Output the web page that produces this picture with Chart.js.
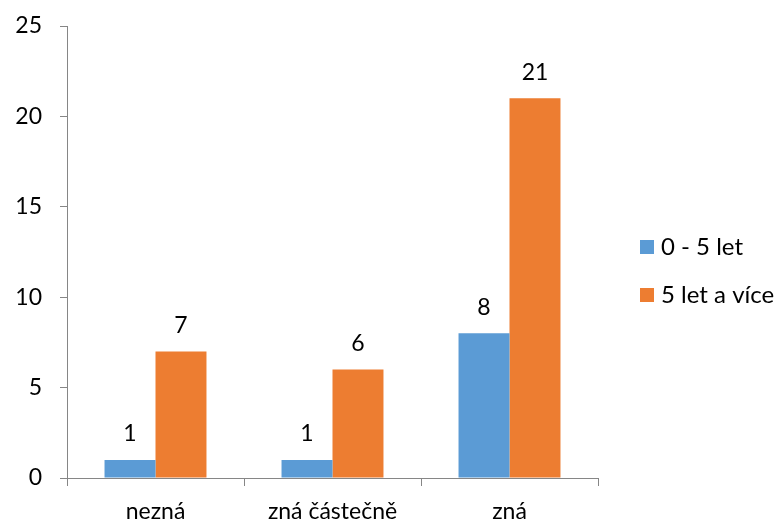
<!DOCTYPE html>
<html lang="cs">
<head>
<meta charset="UTF-8">
<title>Graf</title>
<script src="https://cdn.jsdelivr.net/npm/chart.js"></script>
<style>
  html, body { margin: 0; padding: 0; background: #fff; }
  #wrap { width: 777px; height: 523px; }
</style>
</head>
<body>
<div id="wrap"><canvas id="chart" width="777" height="523"></canvas></div>
<script>
const categories = ['nezná', 'zná částečně', 'zná'];
const seriesNames = ['0 - 5 let', '5 let a více'];
const shortTerm = [1, 1, 8];
const longTerm = [7, 6, 21];
const yTicks = [0, 5, 10, 15, 20, 25];

const FONT = 'Lato, "Open Sans", sans-serif';
const AXIS = '#868686';

// value labels above each bar
const valueLabels = {
  id: 'valueLabels',
  afterDatasetsDraw(chart) {
    const ctx = chart.ctx;
    ctx.save();
    ctx.font = '23px ' + FONT;
    ctx.fillStyle = '#000';
    ctx.textAlign = 'center';
    ctx.textBaseline = 'middle';
    chart.data.datasets.forEach((ds, i) => {
      chart.getDatasetMeta(i).data.forEach((bar, j) => {
        ctx.fillText(String(ds.data[j]), bar.x, bar.y - 26);
      });
    });
    ctx.restore();
  }
};

// legend on the right, like the Excel one
const sideLegend = {
  id: 'sideLegend',
  afterDraw(chart) {
    const ctx = chart.ctx;
    ctx.save();
    ctx.font = '24px ' + FONT;
    ctx.textAlign = 'left';
    ctx.textBaseline = 'middle';
    chart.data.datasets.forEach((ds, i) => {
      const y = 247 + i * 48;
      ctx.fillStyle = ds.backgroundColor;
      ctx.fillRect(640, y - 7, 14, 14);
      ctx.fillStyle = '#000';
      ctx.fillText(ds.label, 661, y);
    });
    ctx.restore();
  }
};

new Chart(document.getElementById('chart'), {
  type: 'bar',
  data: {
    labels: categories,
    datasets: [
      { label: seriesNames[0], data: shortTerm, backgroundColor: '#5B9BD5' },
      { label: seriesNames[1], data: longTerm, backgroundColor: '#ED7D31' }
    ]
  },
  options: {
    responsive: false,
    animation: false,
    devicePixelRatio: 1,
    layout: { padding: { top: 26, right: 179, left: 0, bottom: 0 } },
    datasets: { bar: { categoryPercentage: 0.576, barPercentage: 1 } },
    plugins: { legend: { display: false }, tooltip: { enabled: false } },
    scales: {
      x: {
        grid: { offset: true, drawOnChartArea: false, tickLength: 8, color: AXIS },
        border: { color: AXIS },
        ticks: { font: { family: FONT, size: 23 }, color: '#000', padding: 12 },
        afterFit(s) { s.height = 45; }
      },
      y: {
        min: 0,
        max: 25,
        afterBuildTicks(s) { s.ticks = yTicks.map(v => ({ value: v })); },
        grid: { drawOnChartArea: false, tickLength: 7, color: AXIS },
        border: { color: AXIS },
        ticks: { font: { family: FONT, size: 23 }, color: '#000', padding: 18 },
        afterFit(s) { s.width = 67; s.paddingTop = 0; s.paddingBottom = 0; }
      }
    }
  },
  plugins: [valueLabels, sideLegend]
});
</script>
</body>
</html>
